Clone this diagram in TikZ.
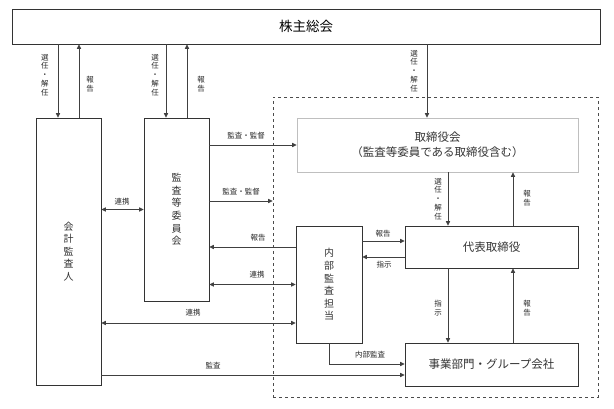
\documentclass[tikz,border=0pt]{standalone}
\usepackage{fontspec}
\setmainfont{Noto Sans CJK JP}
\usetikzlibrary{arrows.meta}
\tikzset{
  box/.style={draw=black!80, line width=0.8pt, inner sep=0pt, align=center, text=black!80},
  vfont/.style={font=\fontsize{10}{12.6}\selectfont},
  hfont/.style={font=\fontsize{11.5}{15}\selectfont},
  lbl/.style={font=\fontsize{7.5}{8.8}\selectfont, text=black!85, inner sep=0pt, align=center},
  arr/.style={draw=black!75, line width=0.8pt, -{Triangle[length=4.5pt,width=4.2pt]}},
  darr/.style={draw=black!75, line width=0.8pt, {Triangle[length=4.5pt,width=4.2pt]}-{Triangle[length=4.5pt,width=4.2pt]}}
}
\begin{document}
\begin{tikzpicture}[x=1pt,y=-1pt]
\useasboundingbox (0,0) rectangle (614,408);
% group
\node[draw=black!70, dashed, line width=0.7pt, minimum width=325pt, minimum height=300pt, inner sep=0pt] (grp) at (435.5,247) {};
% boxes
\node[box, text=black, minimum width=588pt, minimum height=35pt, font=\fontsize{13.5}{14}\selectfont] (top) at (306,26.5) {株主総会};
\node[box, vfont, minimum width=65pt, minimum height=267pt] (kaikei) at (68.5,251.5) {会\\計\\監\\査\\人};
\node[box, vfont, minimum width=65pt, minimum height=183pt] (kansa) at (176.5,209.5) {監\\査\\等\\委\\員\\会};
\node[box, hfont, draw=black!25, minimum width=281pt, minimum height=54pt] (tori) at (437.5,145) {取締役会\\（監査等委員である取締役含む）};
\node[box, hfont, minimum width=173pt, minimum height=42pt] (daihyo) at (491.5,247) {代表取締役};
\node[box, vfont, minimum width=66pt, minimum height=117pt] (naibu) at (329,284.5) {内\\部\\監\\査\\担\\当};
\node[box, hfont, minimum width=173pt, minimum height=43pt] (jigyo) at (491.5,364.5) {事業部門・グループ会社};
% helper coordinates
\coordinate (k1) at (58,0); \coordinate (k2) at (79,0);
\coordinate (a1) at (166,0); \coordinate (a2) at (187,0);
\coordinate (t1) at (427,0);
\coordinate (d1) at (448,0); \coordinate (d2) at (513,0);
\coordinate (y201) at (0,201); \coordinate (y241) at (0,241);
\coordinate (y257) at (0,257); \coordinate (y323) at (0,323);
\coordinate (y364) at (0,364); \coordinate (y375) at (0,375);
% connectors
\draw[arr] (top.south -| k1) -- (kaikei.north -| k1);
\draw[arr] (kaikei.north -| k2) -- (top.south -| k2);
\draw[arr] (top.south -| a1) -- (kansa.north -| a1);
\draw[arr] (kansa.north -| a2) -- (top.south -| a2);
\draw[arr] (top.south -| t1) -- (tori.north -| t1);
\draw[arr] (tori.west -| kansa.east) -- (tori.west);
\draw[arr] (y201 -| kansa.east) -- (y201 -| grp.west);
\draw[darr] (kansa.west -| kaikei.east) -- (kansa.west);
\draw[arr] (naibu.west |- daihyo.west) -- (kansa.east |- daihyo.west);
\draw[darr] (naibu.west -| kansa.east) -- (naibu.west);
\draw[darr] (y323 -| kaikei.east) -- (y323 -| naibu.west);
\draw[arr] (y375 -| kaikei.east) -- (y375 -| jigyo.west);
\draw[arr] (naibu.south) -- (naibu.south |- y364) -- (y364 -| jigyo.west);
\draw[arr] (y241 -| naibu.east) -- (y241 -| daihyo.west);
\draw[arr] (y257 -| daihyo.west) -- (y257 -| naibu.east);
\draw[arr] (tori.south -| d1) -- (daihyo.north -| d1);
\draw[arr] (daihyo.north -| d2) -- (tori.south -| d2);
\draw[arr] (daihyo.south -| d1) -- (jigyo.north -| d1);
\draw[arr] (jigyo.north -| d2) -- (daihyo.south -| d2);
% labels
\node[lbl] (l1) at (45,75) {選\\任\\・\\解\\任};
\node[lbl] (l2) at (90,84) {報\\告};
\node[lbl] (l3) at (155,75) {選\\任\\・\\解\\任};
\node[lbl] (l4) at (201,84) {報\\告};
\node[lbl] (l5) at (414,71) {選\\任\\・\\解\\任};
\node[lbl] (l6) at (246,136) {監査・監督};
\node[lbl] (l7) at (241,192) {監査・監督};
\node[lbl] (l8) at (122,202) {連携};
\node[lbl] (l9) at (258,238) {報告};
\node[lbl] (l10) at (257,275) {連携};
\node[lbl] (l11) at (193,313) {連携};
\node[lbl] (l12) at (213,366) {監査};
\node[lbl] (l13) at (370,355) {内部監査};
\node[lbl] (l14) at (383,234) {報告};
\node[lbl] (l15) at (384,265) {指示};
\node[lbl] (l16) at (438,199) {選\\任\\・\\解\\任};
\node[lbl] (l17) at (527,198) {報\\告};
\node[lbl] (l18) at (438,308) {指\\示};
\node[lbl] (l19) at (527,308) {報\\告};
\end{tikzpicture}
\end{document}
